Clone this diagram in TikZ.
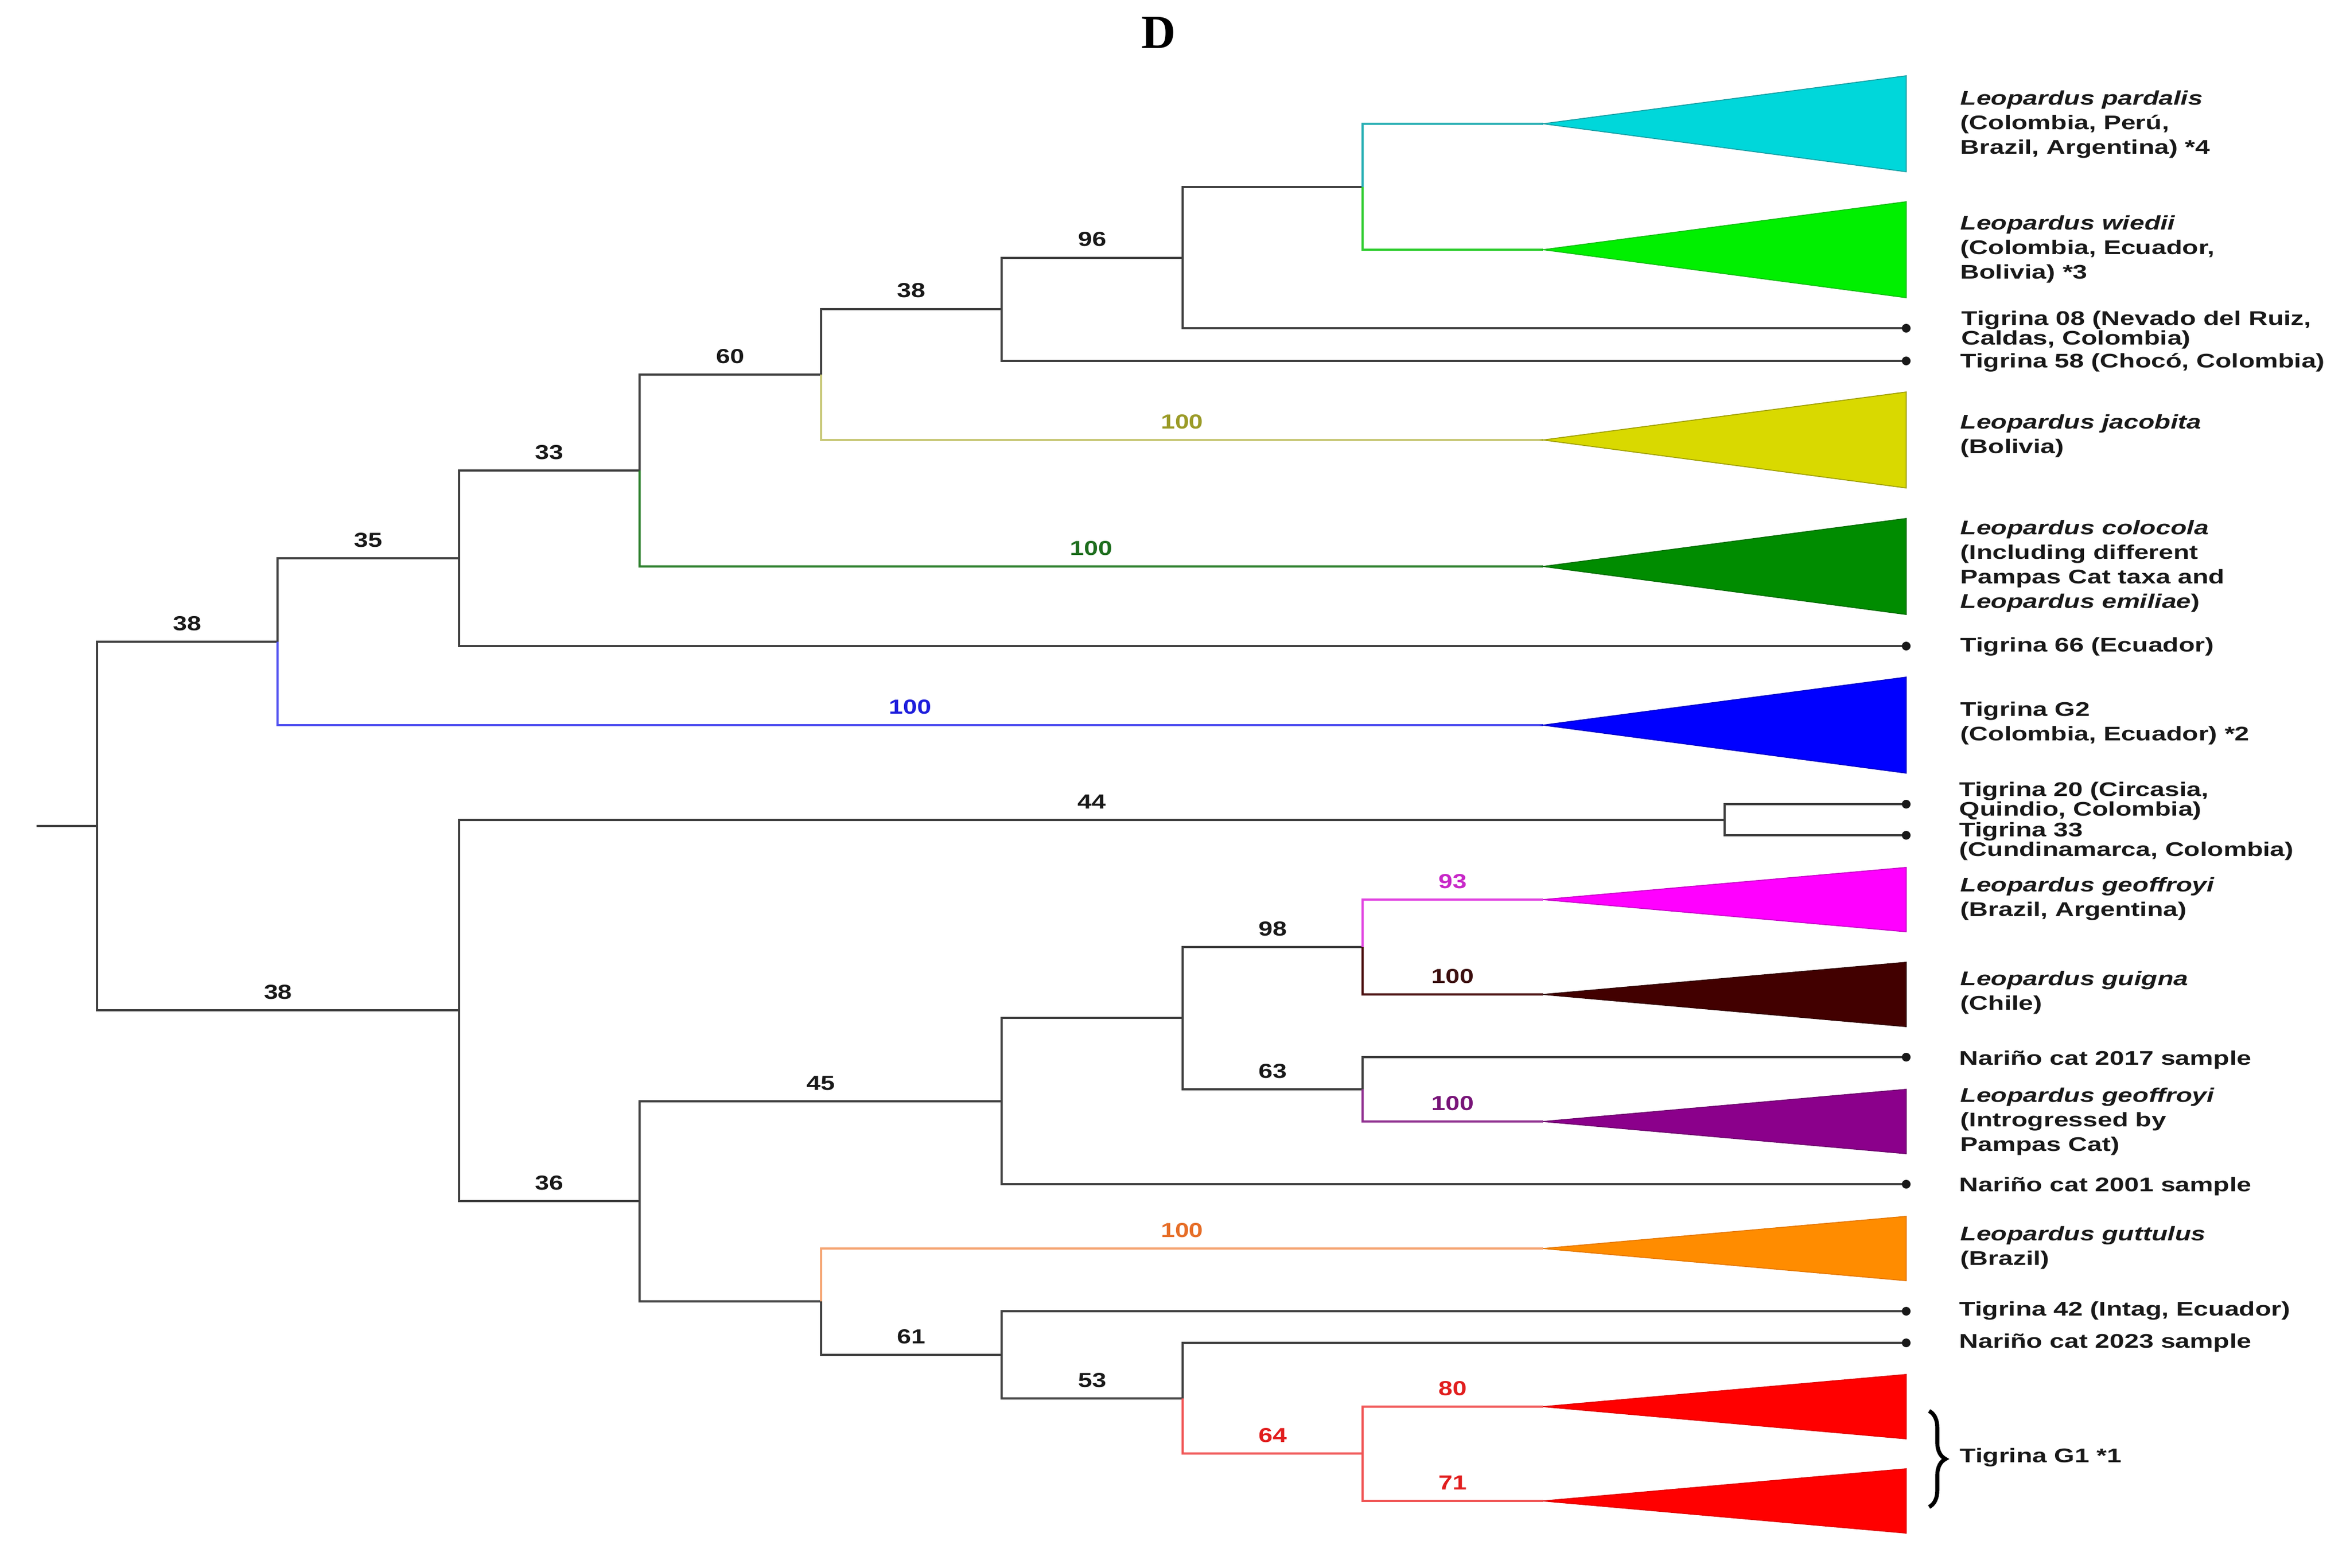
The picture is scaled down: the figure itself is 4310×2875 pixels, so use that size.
\documentclass[tikz,border=0pt]{standalone}
\usepackage{fontspec}
\setmainfont{Liberation Serif}
\newfontfamily\labfont[FakeStretch=1.33]{Liberation Sans}
\newfontfamily\numfont[FakeStretch=1.25]{Liberation Sans}
\usetikzlibrary{decorations.pathreplacing}

% triangle fills / outlines
\definecolor{fPard}{RGB}{0,215,218}   \definecolor{dPard}{RGB}{20,160,165}
\definecolor{fWied}{RGB}{0,240,0}     \definecolor{dWied}{RGB}{20,190,20}
\definecolor{fJac}{RGB}{217,217,0}    \definecolor{dJac}{RGB}{160,160,0}
\definecolor{fColo}{RGB}{0,140,0}     \definecolor{dColo}{RGB}{0,110,0}
\definecolor{fGtwo}{RGB}{0,0,255}     \definecolor{dGtwo}{RGB}{0,0,200}
\definecolor{fGeo}{RGB}{255,0,255}    \definecolor{dGeo}{RGB}{200,0,200}
\definecolor{fGui}{RGB}{66,0,0}       \definecolor{dGui}{RGB}{50,0,0}
\definecolor{fGeoI}{RGB}{139,0,139}   \definecolor{dGeoI}{RGB}{110,0,110}
\definecolor{fGut}{RGB}{255,140,0}    \definecolor{dGut}{RGB}{230,120,0}
\definecolor{fRed}{RGB}{255,0,0}      \definecolor{dRed}{RGB}{225,0,0}
% branch line colours
\definecolor{lPard}{RGB}{40,175,180}
\definecolor{lWied}{RGB}{50,205,50}
\definecolor{lJac}{RGB}{200,200,120}
\definecolor{lColo}{RGB}{40,125,40}
\definecolor{lGtwo}{RGB}{80,80,240}
\definecolor{lGeo}{RGB}{225,70,225}
\definecolor{lGui}{RGB}{75,15,15}
\definecolor{lGeoI}{RGB}{145,50,145}
\definecolor{lGut}{RGB}{245,165,115}
\definecolor{lRed}{RGB}{240,85,85}
% support value colours
\definecolor{tJac}{RGB}{155,155,40}
\definecolor{tColo}{RGB}{30,110,30}
\definecolor{tGtwo}{RGB}{30,30,220}
\definecolor{tGeo}{RGB}{200,40,200}
\definecolor{tGui}{RGB}{60,15,15}
\definecolor{tGeoI}{RGB}{120,20,120}
\definecolor{tGut}{RGB}{230,110,40}
\definecolor{tRed}{RGB}{225,30,30}

\tikzset{
  br/.style={line width=0.9pt, draw=black!75},
  num/.style={font=\numfont\bfseries\fontsize{10.6}{12}\selectfont, anchor=base,
              yshift=0.21cm, inner sep=0, text=black!90, pos=0.75},
  lab/.style={font=\labfont\bfseries\fontsize{10.3}{12.8}\selectfont, anchor=west,
              inner sep=0, align=left, text=black!90},
  labtight/.style={lab, font=\labfont\bfseries\fontsize{10.3}{10.4}\selectfont},
  tipdot/.style={fill=black!90},
}
\newcommand\bigclade[3]{\filldraw[fill=#2, draw=#3, line width=0.5pt] (#1) -- ++(666,-88) -- ++(0,176) -- cycle;}
\newcommand\smallclade[3]{\filldraw[fill=#2, draw=#3, line width=0.5pt] (#1) -- ++(666,-59) -- ++(0,118) -- cycle;}

\begin{document}
\begin{tikzpicture}[x=0.01cm,y=-0.01cm]
\useasboundingbox (0,0) rectangle (4310,2875);

% ---------- internal nodes ----------
\coordinate (rs)   at (67,1515);
\coordinate (root) at (178,1515);
\coordinate (nA) at (509,1177);
\coordinate (nB) at (842,1024);
\coordinate (nC) at (1173,863);
\coordinate (nD) at (1506,687);
\coordinate (nE) at (1837,567);
\coordinate (nF) at (2169,473);
\coordinate (nG) at (2499,343);
\coordinate (nH) at (842,1853);
\coordinate (nI) at (3163,1504);
\coordinate (nJ) at (1173,2203);
\coordinate (nK) at (1837,2020);
\coordinate (nL) at (2169,1867);
\coordinate (nM) at (2499,1737);
\coordinate (nN) at (2499,1998);
\coordinate (nO) at (1506,2387);
\coordinate (nP) at (1837,2485);
\coordinate (nQ) at (2169,2565);
\coordinate (nR) at (2499,2666);

% ---------- tips ----------
\coordinate (tPard) at (2830,227);
\coordinate (tWied) at (2830,458);
\coordinate (tEight) at (3496,602);
\coordinate (tFiftyEight) at (3496,662);
\coordinate (tJac) at (2830,807);
\coordinate (tColo) at (2830,1039);
\coordinate (tSixtySix) at (3496,1185);
\coordinate (tGtwo) at (2830,1330);
\coordinate (tTwenty) at (3496,1475);
\coordinate (tThirtyThree) at (3496,1532);
\coordinate (tGeo) at (2830,1650);
\coordinate (tGui) at (2830,1824);
\coordinate (tNseventeen) at (3496,1939);
\coordinate (tGeoI) at (2830,2057);
\coordinate (tNone) at (3496,2172);
\coordinate (tGut) at (2830,2290);
\coordinate (tFortyTwo) at (3496,2405);
\coordinate (tNtwentythree) at (3496,2463);
\coordinate (tGa) at (2830,2580);
\coordinate (tGb) at (2830,2753);

% ---------- branches ----------
\draw[br] (rs) -- (root);
\draw[br] (root) |- node[num]{38} (nA);
\draw[br] (root) |- node[num]{38} (nH);

\draw[br] (nA) |- node[num]{35} (nB);
\draw[br, draw=lGtwo] (nA) |- node[num, text=tGtwo]{100} (tGtwo);
\draw[br] (nB) |- node[num]{33} (nC);
\draw[br] (nB) |- (tSixtySix);
\draw[br] (nC) |- node[num]{60} (nD);
\draw[br, draw=lColo] (nC) |- node[num, text=tColo]{100} (tColo);
\draw[br] (nD) |- node[num]{38} (nE);
\draw[br, draw=lJac] (nD) |- node[num, text=tJac]{100} (tJac);
\draw[br] (nE) |- node[num]{96} (nF);
\draw[br] (nE) |- (tFiftyEight);
\draw[br] (nF) |- (nG);
\draw[br] (nF) |- (tEight);
\draw[br, draw=lPard] (nG) |- (tPard);
\draw[br, draw=lWied] (nG) |- (tWied);

\draw[br] (nH) |- node[num]{44} (nI);
\draw[br] (nH) |- node[num]{36} (nJ);
\draw[br] (nI) |- (tTwenty);
\draw[br] (nI) |- (tThirtyThree);
\draw[br] (nJ) |- node[num]{45} (nK);
\draw[br] (nJ) |- (nO);
\draw[br] (nK) |- (nL);
\draw[br] (nK) |- (tNone);
\draw[br] (nL) |- node[num]{98} (nM);
\draw[br] (nL) |- node[num]{63} (nN);
\draw[br, draw=lGeo] (nM) |- node[num, text=tGeo]{93} (tGeo);
\draw[br, draw=lGui] (nM) |- node[num, text=tGui]{100} (tGui);
\draw[br] (nN) |- (tNseventeen);
\draw[br, draw=lGeoI] (nN) |- node[num, text=tGeoI]{100} (tGeoI);
\draw[br, draw=lGut] (nO) |- node[num, text=tGut]{100} (tGut);
\draw[br] (nO) |- node[num]{61} (nP);
\draw[br] (nP) |- (tFortyTwo);
\draw[br] (nP) |- node[num]{53} (nQ);
\draw[br] (nQ) |- (tNtwentythree);
\draw[br, draw=lRed] (nQ) |- node[num, text=tRed]{64} (nR);
\draw[br, draw=lRed] (nR) |- node[num, text=tRed]{80} (tGa);
\draw[br, draw=lRed] (nR) |- node[num, text=tRed]{71} (tGb);

% ---------- collapsed clades ----------
\bigclade{tPard}{fPard}{dPard}
\bigclade{tWied}{fWied}{dWied}
\bigclade{tJac}{fJac}{dJac}
\bigclade{tColo}{fColo}{dColo}
\bigclade{tGtwo}{fGtwo}{dGtwo}
\smallclade{tGeo}{fGeo}{dGeo}
\smallclade{tGui}{fGui}{dGui}
\smallclade{tGeoI}{fGeoI}{dGeoI}
\smallclade{tGut}{fGut}{dGut}
\smallclade{tGa}{fRed}{dRed}
\smallclade{tGb}{fRed}{dRed}

% ---------- tip dots ----------
\foreach \t in {tEight,tFiftyEight,tSixtySix,tTwenty,tThirtyThree,tNseventeen,tNone,tFortyTwo,tNtwentythree}
  \fill[tipdot] (\t) circle[radius=0.08cm];

% ---------- tip labels ----------
\node[lab] (lPard) at (3595,228) {\textit{Leopardus pardalis}\\(Colombia, Perú,\\Brazil, Argentina) *4};
\node[lab] (lWied) at (3595,457) {\textit{Leopardus wiedii}\\(Colombia, Ecuador,\\Bolivia) *3};
\node[labtight] (lEight) at (3597,605) {Tigrina 08 (Nevado del Ruiz,\\Caldas, Colombia)};
\node[lab] (lFiftyEight) at (3595,665) {Tigrina 58 (Chocó, Colombia)};
\node[lab] (lJac) at (3595,800) {\textit{Leopardus jacobita}\\(Bolivia)};
\node[lab] (lColo) at (3595,1039) {\textit{Leopardus colocola}\\(Including different\\Pampas Cat taxa and\\\textit{Leopardus emiliae})};
\node[lab] (lSixtySix) at (3595,1186) {Tigrina 66 (Ecuador)};
\node[lab] (lGtwo) at (3595,1327) {Tigrina G2\\(Colombia, Ecuador) *2};
\node[labtight] (lTwenty) at (3593,1469) {Tigrina 20 (Circasia,\\Quindio, Colombia)};
\node[labtight] (lThirtyThree) at (3593,1543) {Tigrina 33\\(Cundinamarca, Colombia)};
\node[lab] (lGeo) at (3595,1649) {\textit{Leopardus geoffroyi}\\(Brazil, Argentina)};
\node[lab] (lGui) at (3595,1821) {\textit{Leopardus guigna}\\(Chile)};
\node[lab] (lNseventeen) at (3593,1944) {Nariño cat 2017 sample};
\node[lab] (lGeoI) at (3595,2057) {\textit{Leopardus geoffroyi}\\(Introgressed by\\Pampas Cat)};
\node[lab] (lNone) at (3593,2176) {Nariño cat 2001 sample};
\node[lab] (lGut) at (3595,2289) {\textit{Leopardus guttulus}\\(Brazil)};
\node[lab] (lFortyTwo) at (3593,2404) {Tigrina 42 (Intag, Ecuador)};
\node[lab] (lNtwentythree) at (3593,2463) {Nariño cat 2023 sample};

% ---------- Tigrina G1 brace ----------
\coordinate (bTop) at (3538,2588);
\coordinate (bBot) at (3538,2764);
\draw[decorate, decoration={brace, amplitude=0.3cm}, line width=2.1pt] (bTop) -- (bBot);
\node[lab] (lGone) at (3594,2673) {Tigrina G1 *1};

% ---------- title ----------
\node[font=\bfseries\fontsize{24.8}{28}\selectfont, anchor=base, inner sep=0] (title) at (2125,88) {D};
\end{tikzpicture}
\end{document}
